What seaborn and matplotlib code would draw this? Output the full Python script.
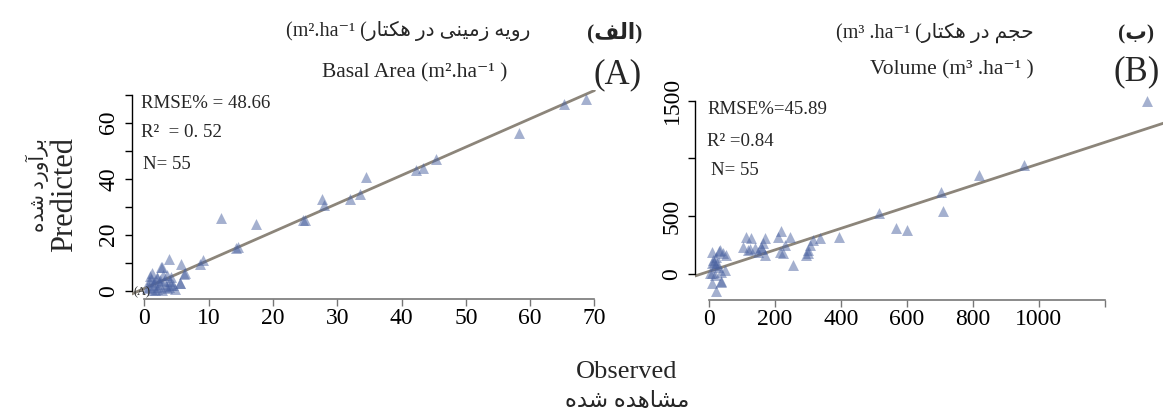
import numpy as np
import pandas as pd
import matplotlib
matplotlib.use("Agg")
import matplotlib.pyplot as plt
import seaborn as sns

# ---------------- data ----------------
obs_ba = [68.7, 65.2, 58.3, 45.4, 43.4, 42.2, 34.5, 33.5, 32.0, 27.7, 27.9, 24.7, 25.0,
          17.3, 12.0, 14.5, 14.2, 9.2, 8.6, 5.7, 6.3, 3.8, 2.6, 5.6, 3.6, 4.2,
          2.7, 6.2, 5.55, 4.1, 1.15, 1.9, 0.8, 3.1, 4.4, 2.2, 1.3, 0.35, 3.5, 4.7,
          1.9, 1.1, 2.9, 1.5, 2.5, 0.7, 3.3, 2.0, 1.6, 2.8, 4.0, 3.8, 0.9, 1.2, 2.4]
pred_ba = [68.4, 66.7, 56.2, 46.9, 43.9, 43.2, 40.6, 34.6, 32.9, 32.9, 30.5, 25.4, 25.1,
           23.7, 26.1, 15.7, 15.1, 10.9, 9.5, 9.5, 6.4, 11.3, 8.3, 2.8, 5.6, 2.0,
           8.6, 6.0, 2.9, 5.0, 6.2, 4.5, 3.3, 3.3, 2.1, 1.5, 2.1, 0.9, 0.9, 0.6,
           0.6, 4.2, 5.6, 3.0, 2.5, 1.5, 1.8, 5.0, 0.3, 0.4, 3.5, 1.2, 5.2, 0.2, 4.0]

obs_vol = [1326, 955, 817, 702, 708, 599, 567, 516, 395, 338, 314, 306, 301, 299, 254,
           245, 220, 210, 225, 215, 170, 164, 157, 170, 114, 129, 104, 119, 139, 150,
           43, 52, 33, 11, 25, 18, 38, 38, 8, 23, 3, 18, 13, 28, 21, 8, 48,
           230, 293, 160, 16, 36, 31, 9, 125]
pred_vol = [1501, 944, 857, 713, 545, 381, 401, 525, 323, 309, 294, 251, 208, 179, 78,
            323, 375, 323, 179, 193, 309, 266, 237, 165, 323, 309, 237, 208, 222, 193,
            179, 165, 208, 193, 98, 78, 20, -66, -81, -144, 6, -9, 121, 63, 150, 92, 35,
            251, 165, 220, 106, -60, 202, 5, 220]

fit_ba = (1.01, 0.8)      # slope, intercept
fit_vol = (0.932, 22.0)

ba_xticks = [0, 10, 20, 30, 40, 50, 60, 70]
ba_yticks = [0, 10, 20, 30, 40, 50, 60, 70]
ba_ylabels = ["0", "", "20", "", "40", "", "60", ""]
vol_xticks = [0, 200, 400, 600, 800, 1000, 1200]
vol_xlabels = ["0", "200", "400", "600", "800", "1000", ""]
vol_yticks = [0, 500, 1000, 1500]
vol_ylabels = ["0", "500", "", "1500"]

# ------------- minimal Arabic-script shaping (visual order) -------------
FORMS = {
    '\u0627': ('\uFE8D', '\uFE8E', None, None),
    '\u0622': ('\uFE81', '\uFE82', None, None),
    '\u0628': ('\uFE8F', '\uFE90', '\uFE91', '\uFE92'),
    '\u062A': ('\uFE95', '\uFE96', '\uFE97', '\uFE98'),
    '\u062C': ('\uFE9D', '\uFE9E', '\uFE9F', '\uFEA0'),
    '\u062D': ('\uFEA1', '\uFEA2', '\uFEA3', '\uFEA4'),
    '\u062F': ('\uFEA9', '\uFEAA', None, None),
    '\u0631': ('\uFEAD', '\uFEAE', None, None),
    '\u0632': ('\uFEAF', '\uFEB0', None, None),
    '\u0634': ('\uFEB5', '\uFEB6', '\uFEB7', '\uFEB8'),
    '\u0641': ('\uFED1', '\uFED2', '\uFED3', '\uFED4'),
    '\u0644': ('\uFEDD', '\uFEDE', '\uFEDF', '\uFEE0'),
    '\u0645': ('\uFEE1', '\uFEE2', '\uFEE3', '\uFEE4'),
    '\u0646': ('\uFEE5', '\uFEE6', '\uFEE7', '\uFEE8'),
    '\u0647': ('\uFEE9', '\uFEEA', '\uFEEB', '\uFEEC'),
    '\u0648': ('\uFEED', '\uFEEE', None, None),
    '\u06A9': ('\uFB8E', '\uFB8F', '\uFB90', '\uFB91'),
    '\u06CC': ('\uFBFC', '\uFBFD', '\uFBFE', '\uFBFF'),
}


def shape(text):
    chars = list(text)
    out = []
    for i, c in enumerate(chars):
        if c not in FORMS:
            out.append(c)
            continue
        prev = chars[i - 1] if i > 0 else None
        nxt = chars[i + 1] if i + 1 < len(chars) else None
        jp = prev in FORMS and FORMS[prev][2] is not None
        jn = FORMS[c][2] is not None and nxt in FORMS
        f = FORMS[c]
        if jp and jn:
            g = f[3]
        elif jp:
            g = f[1]
        elif jn:
            g = f[2]
        else:
            g = f[0]
        out.append(g)
    return "".join(reversed(out))


# ---------------- style ----------------
sns.set_theme(style="ticks")
FAM = ["Liberation Serif", "DejaVu Sans"]
plt.rcParams["font.family"] = FAM
plt.rcParams["axes.unicode_minus"] = False

W, H = 1163, 412
fig = plt.figure(figsize=(W / 100, H / 100), dpi=100)


def fx(px):
    return px / W


def fy(py):
    return 1 - py / H


PT_COLOR = "#4a62a0"
LINE_COLOR = "#8c857a"

ax1 = fig.add_axes([0.11324, 0.27354, 0.40782, 0.50680])
ax2 = fig.add_axes([0.59759, 0.27184, 0.40447, 0.50218])

df_ba = pd.DataFrame({"obs": obs_ba, "pred": pred_ba})
df_vol = pd.DataFrame({"obs": obs_vol, "pred": pred_vol})

for ax, df, fit in [(ax1, df_ba, fit_ba), (ax2, df_vol, fit_vol)]:
    sns.scatterplot(data=df, x="obs", y="pred", ax=ax, marker="^", s=62,
                    color=PT_COLOR, alpha=0.5, linewidth=0, zorder=3)
    ax.axline((0, fit[1]), slope=fit[0], color=LINE_COLOR, lw=2.0, zorder=2)
    ax.set_xlabel("")
    ax.set_ylabel("")
    for s in ["top", "right"]:
        ax.spines[s].set_visible(False)
    ax.spines["left"].set_color("black")
    ax.spines["left"].set_linewidth(1.0)
    ax.spines["bottom"].set_color("#777777")
    ax.spines["bottom"].set_linewidth(1.2)
    ax.tick_params(axis="y", length=5, width=1.0, color="black", labelsize=17,
                   pad=4, labelrotation=90, labelcolor="black")
    ax.tick_params(axis="x", length=5, width=1.0, color="#777777", labelsize=17,
                   pad=1.5, labelcolor="black")

ax1.set_xlim(-1.96, 71.8)
ax1.set_ylim(-3.07, 71.5)
ax1.set_xticks(ba_xticks)
ax1.set_yticks(ba_yticks)
ax1.set_yticklabels(ba_ylabels)
ax1.spines["left"].set_bounds(0, 70)
ax1.spines["bottom"].set_bounds(0, 70)

ax2.set_xlim(-42, 1383)
ax2.set_ylim(-225, 1566)
ax2.set_xticks(vol_xticks)
ax2.set_xticklabels(vol_xlabels)
ax2.set_yticks(vol_yticks)
ax2.set_yticklabels(vol_ylabels)
ax2.spines["left"].set_bounds(0, 1500)
ax2.spines["bottom"].set_bounds(0, 1200)

for ax in (ax1, ax2):
    for lab in ax.get_yticklabels():
        lab.set_va("center")

# ---------------- annotations ----------------
fig.text(fx(141), fy(104), "RMSE% = 48.66", fontsize=13.6, va="center", ha="left")
fig.text(fx(141), fy(132), "R\u00b2  = 0. 52", fontsize=13.6, va="center", ha="left")
fig.text(fx(143), fy(165), "N= 55", fontsize=13.6, va="center", ha="left")
fig.text(fx(133), fy(292), "(A)", fontsize=9, va="center", ha="left")

fig.text(fx(707), fy(110), "RMSE%=45.89", fontsize=13.6, va="center", ha="left")
fig.text(fx(707), fy(142), "R\u00b2 =0.84", fontsize=13.6, va="center", ha="left")
fig.text(fx(711), fy(170), "N= 55", fontsize=13.6, va="center", ha="left")

# titles
fig.text(fx(415), fy(73), "Basal Area (m\u00b2.ha\u207b\u00b9 )", fontsize=15.5,
         va="center", ha="center")
fig.text(fx(618), fy(75), "(A)", fontsize=25, va="center", ha="center")
fig.text(fx(408), fy(31), "(m\u00b2.ha\u207b\u00b9 (" + shape("رویه زمینی در هکتار"),
         fontsize=14.5, va="center", ha="center")
fig.text(fx(615), fy(33), "(" + shape("الف") + ")", fontsize=15.5, va="center",
         ha="center", fontweight="bold")

fig.text(fx(952), fy(70), "Volume (m\u00b3 .ha\u207b\u00b9 )", fontsize=15.5,
         va="center", ha="center")
fig.text(fx(1137), fy(72), "(B)", fontsize=25, va="center", ha="center")
fig.text(fx(935), fy(33), "(m\u00b3 .ha\u207b\u00b9 (" + shape("حجم در هکتار"),
         fontsize=14.5, va="center", ha="center")
fig.text(fx(1118), fy(34), "(" + shape("ب") + ")", fontsize=15.5, va="center",
         ha="left", fontweight="bold")

# axis titles
fig.text(fx(65), fy(195), "Predicted", fontsize=22, rotation=90, va="center",
         ha="center")
fig.text(fx(37), fy(185), shape("برآورد شده"), fontsize=14.5, rotation=90,
         va="center", ha="center")
fig.text(fx(627), fy(372), "Observed", fontsize=19, va="center", ha="center")
fig.text(fx(627), fy(402), shape("مشاهده شده"), fontsize=16.5, va="center",
         ha="center")

fig.savefig("out.png", dpi=100)
